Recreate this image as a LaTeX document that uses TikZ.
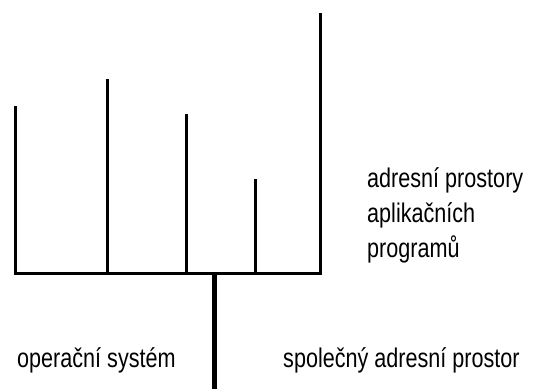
\documentclass[tikz,border=0pt]{standalone}
\usepackage{fontspec}
\newfontfamily\labfont[FakeStretch=0.8]{Liberation Sans}
\begin{document}
\begin{tikzpicture}[x=1pt,y=-1pt,
  bar/.style={line width=3pt,black},
  stem/.style={line width=5pt,black},
  lab/.style={anchor=base west,inner sep=0pt,font=\labfont\fontsize{27}{27}\selectfont}]
\useasboundingbox (0,0) rectangle (540,389);
% base line corners and tops
\coordinate (aTop) at (15,106);
\coordinate (aBot) at (15,273);
\coordinate (bTop) at (107,79);
\coordinate (bBot) at (107,273);
\coordinate (cTop) at (186,114);
\coordinate (cBot) at (186,273);
\coordinate (dTop) at (255,179);
\coordinate (dBot) at (255,273);
\coordinate (eTop) at (320.5,12.5);
\coordinate (eBot) at (320.5,273);
\coordinate (sTop) at (214,273);
\coordinate (sBot) at (214,389);
\draw[bar] (aTop) -- (aBot) -- (eBot) -- (eTop);
\draw[bar] (bTop) -- (bBot);
\draw[bar] (cTop) -- (cBot);
\draw[bar] (dTop) -- (dBot);
\draw[stem] (sTop) -- (sBot);
% labels
\node[lab] (t1) at (367,187) {adresní prostory};
\node[lab] (t2) at (367,222) {aplikačních};
\node[lab] (t3) at (367,257) {programů};
\node[lab] (os) at (17,367) {operační systém};
\node[lab] (sp) at (283,367) {společný adresní prostor};
\end{tikzpicture}
\end{document}
